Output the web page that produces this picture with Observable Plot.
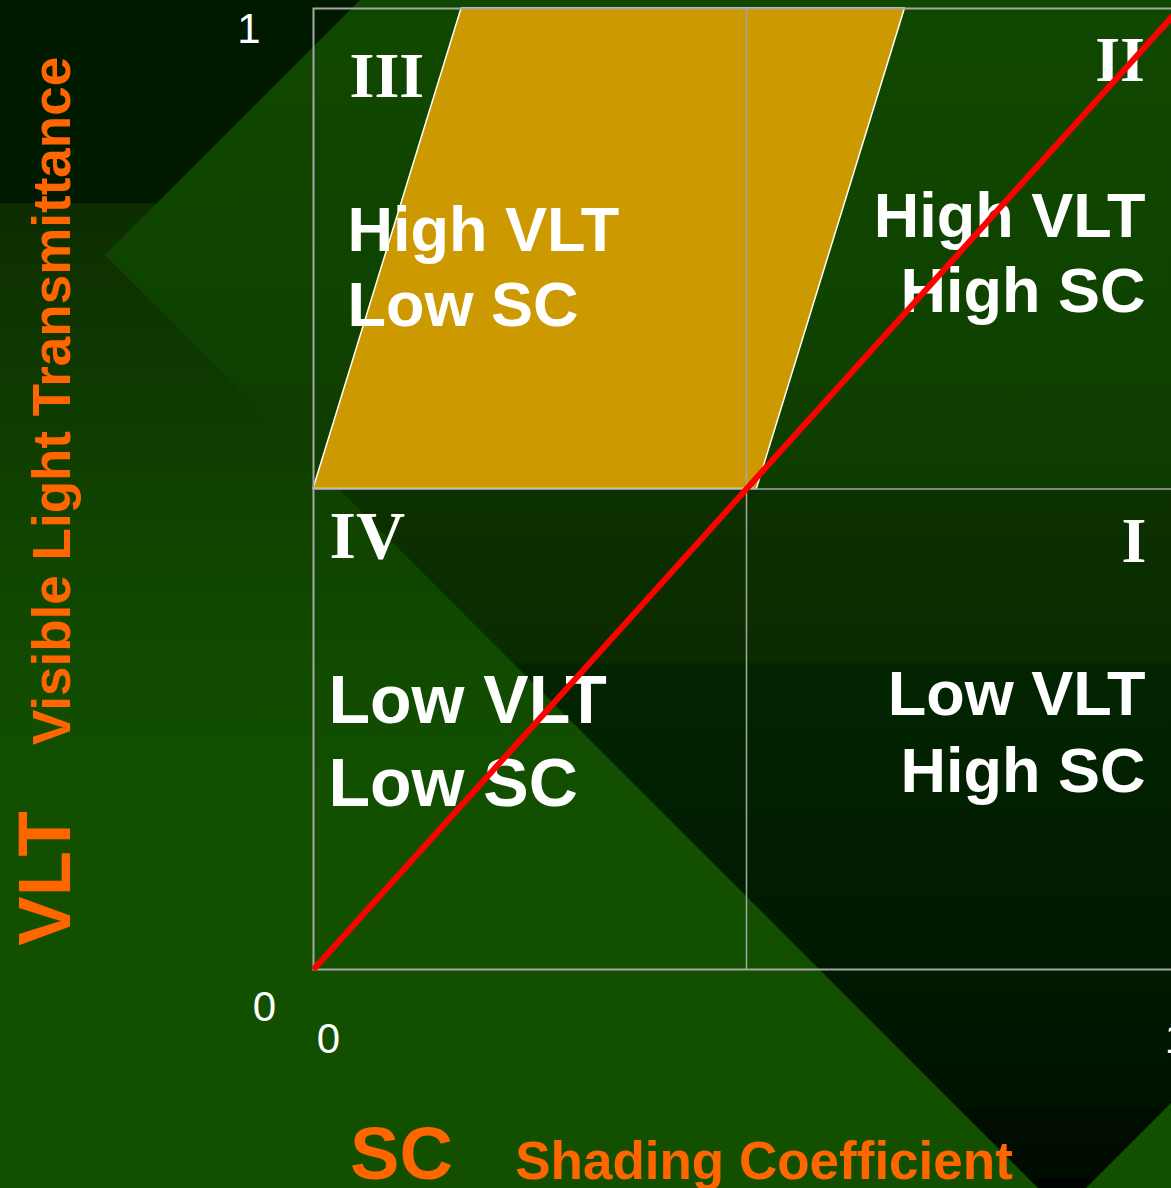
<!DOCTYPE html>
<html>
<head>
<meta charset="utf-8">
<script src="https://cdn.jsdelivr.net/npm/d3@7"></script>
<script src="https://cdn.jsdelivr.net/npm/@observablehq/plot@0.6"></script>
<style>
  html, body { margin: 0; padding: 0; background: #125000; overflow: hidden; }
  #stage { position: relative; width: 1171px; height: 1188px; overflow: hidden; }
  .bg {
    position: absolute; left: 0; top: 0; width: 1171px; height: 1188px;
    background: linear-gradient(to bottom,
      #001a00 0px, #001a00 203px, #0d2d00 203px, #104600 560px, #125000 800px, #125000 1188px);
  }
  .diamond {
    position: absolute; left: 0; top: 0; width: 1171px; height: 1188px;
    clip-path: polygon(105px 255px, 1062px -702px, 2019px 255px, 1062px 1212px);
    background: linear-gradient(to bottom,
      #114800 0px, #0f4300 300px, #0e3c00 487px, #0c3100 490px, #0a2b00 662px,
      #022500 664px, #001a00 960px, #001300 1108px, #000e00 1110px,
      #000c00 1177px, #000400 1179px);
  }
  #chart { position: absolute; left: 0; top: 0; }
</style>
</head>
<body>
<div id="stage">
  <div class="bg"></div>
  <div class="diamond"></div>
  <div id="chart"></div>
</div>
<script>
// ---- data ----
const xTicks = [0, 1];
const yTicks = [0, 1];
const quadrantNames = ["I", "II", "III", "IV"];
const quadrantLabels = ["Low VLT\nHigh SC", "High VLT\nHigh SC", "High VLT\nLow SC", "Low VLT\nLow SC"];
const quadrantSC = [1, 1, 0, 0];
const quadrantVLT = [0.5, 1, 1, 0.5];
const dividerSC = [0.5];
const dividerVLT = [0.5];
const targetVLT = [0.5, 1];
const targetSCLow = [0, 0.171];
const targetSCHigh = [0.512, 0.683];
const refSC = [0, 1];
const refVLT = [0, 1];
const xTitle = "SC";
const xSubtitle = "Shading Coefficient";
const yTitle = "VLT";
const ySubtitle = "Visible Light Transmittance";

// ---- layout (styles only) ----
const quadLayout = [
  {anchor: "end",   numDx: -33,   numDy: 72.5, numSize: 64, txtDx: -34,  txtDy: 302.5, txtSize: 63, lh: 1.222},
  {anchor: "end",   numDx: -34.5, numDy: 72,   numSize: 64, txtDx: -34,  txtDy: 303,   txtSize: 63, lh: 1.19},
  {anchor: "start", numDx: 36,    numDy: 88,   numSize: 64, txtDx: 34,   txtDy: 317,   txtSize: 63, lh: 1.19},
  {anchor: "start", numDx: 16,    numDy: 68.5, numSize: 68, txtDx: 15,   txtDy: 316.5, txtSize: 68, lh: 1.22}
];

const sans = "'Liberation Sans', Arial, sans-serif";
const serif = "'Liberation Serif', 'Times New Roman', serif";
const gridColor = "#a6a6a6";
const orange = "#ff6600";

const target = targetVLT.map((v, i) => ({vlt: v, lo: targetSCLow[i], hi: targetSCHigh[i]}));
const refLine = refSC.map((s, i) => ({sc: s, vlt: refVLT[i]}));

const quadMarks = [];
quadrantNames.forEach((name, i) => {
  const L = quadLayout[i];
  quadMarks.push(Plot.text([i], {
    x: j => quadrantSC[j], y: j => quadrantVLT[j], text: j => quadrantNames[j],
    textAnchor: L.anchor, lineAnchor: "bottom", dx: L.numDx, dy: L.numDy,
    fill: "white", fontFamily: serif, fontWeight: "bold", fontSize: L.numSize
  }));
  quadMarks.push(Plot.text([i], {
    x: j => quadrantSC[j], y: j => quadrantVLT[j], text: j => quadrantLabels[j],
    textAnchor: L.anchor, lineAnchor: "bottom", lineHeight: L.lh, dx: L.txtDx, dy: L.txtDy,
    fill: "white", fontFamily: sans, fontWeight: "bold", fontSize: L.txtSize
  }));
});

const tickStyle = {fill: "white", fontFamily: sans, fontSize: 42, lineAnchor: "bottom", textAnchor: "middle"};
const titleStyle = {fill: orange, fontFamily: sans, fontWeight: "bold", lineAnchor: "bottom", textAnchor: "middle"};

const chart = Plot.plot({
  width: 1179,
  height: 1188,
  marginLeft: 313,
  marginRight: 0,
  marginTop: 8,
  marginBottom: 219,
  x: {domain: [0, 1], axis: null},
  y: {domain: [0, 1], axis: null},
  style: "background: transparent; max-width: none; overflow: visible;",
  marks: [
    Plot.areaX(target, {y: "vlt", x1: "lo", x2: "hi", fill: "#cc9900", stroke: "white", strokeWidth: 1.5}),
    Plot.frame({stroke: gridColor, strokeWidth: 2}),
    Plot.ruleX(dividerSC, {stroke: gridColor, strokeWidth: 1.5}),
    Plot.ruleY(dividerVLT, {stroke: gridColor, strokeWidth: 1.5}),
    ...quadMarks,
    Plot.line(refLine, {x: "sc", y: "vlt", stroke: "#ff0000", strokeWidth: 6, strokeLinecap: "butt"}),
    // tick labels
    Plot.text([yTicks[1]], {y: d => d, text: d => String(d), frameAnchor: "left", dx: -64.5, dy: 34, ...tickStyle}),
    Plot.text([yTicks[0]], {y: d => d, text: d => String(d), frameAnchor: "left", dx: -49, dy: 51, ...tickStyle}),
    Plot.text([xTicks[0]], {x: d => d, text: d => String(d), frameAnchor: "bottom", dx: 15, dy: 83, ...tickStyle}),
    Plot.text([xTicks[1]], {x: d => d, text: d => String(d), frameAnchor: "bottom", dx: -3, dy: 83, ...tickStyle}),
    // axis titles
    Plot.text([yTitle], {text: d => d, frameAnchor: "left", rotate: -90, dx: -244, dy: 389.5, fontSize: 74, ...titleStyle}),
    Plot.text([ySubtitle], {text: d => d, frameAnchor: "left", rotate: -90, dx: -244, dy: -88, fontSize: 53, ...titleStyle}),
    Plot.text([xTitle], {text: d => d, frameAnchor: "bottom", dx: -345, dy: 209, fontSize: 74, ...titleStyle}),
    Plot.text([xSubtitle], {text: d => d, frameAnchor: "bottom", dx: 17.5, dy: 209, fontSize: 53, ...titleStyle})
  ]
});

document.getElementById("chart").appendChild(chart);
</script>
</body>
</html>
